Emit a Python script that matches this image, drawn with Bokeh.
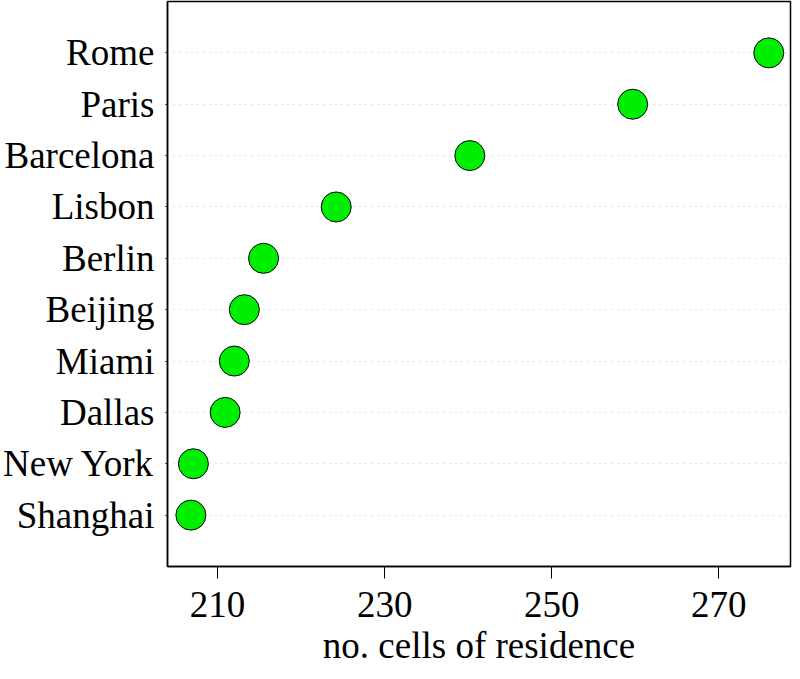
from bokeh.plotting import figure
from bokeh.models import Range1d, FixedTicker, ColumnDataSource
from bokeh.embed import file_html
from bokeh.resources import INLINE

cities = ["Shanghai", "New York", "Dallas", "Miami", "Beijing", "Berlin",
          "Lisbon", "Barcelona", "Paris", "Rome"]
cells = [206.8, 207.1, 210.9, 212.0, 213.2, 215.5, 224.2, 240.2, 259.7, 276.0]
x_ticks = [210, 230, 250, 270]
x_title = "no. cells of residence"

pos = list(range(1, len(cities) + 1))
src = ColumnDataSource(data=dict(x=cells, y=pos, city=cities))

FONT = "'Liberation Serif', 'Times New Roman', serif"
FS = "37px"

p = figure(width=792, height=671, output_backend="svg", toolbar_location=None,
           x_range=Range1d(204.0, 278.6), y_range=Range1d(0, len(cities) + 1),
           min_border_left=157, min_border_right=2, min_border_top=1,
           min_border_bottom=105)

p.scatter("x", "y", source=src, size=30, fill_color="#00EE00",
          line_color="black", line_width=1)

p.outline_line_color = "black"
p.outline_line_width = 1.5
p.background_fill_color = "white"
p.border_fill_color = "white"

p.xgrid.visible = False
p.ygrid.grid_line_color = "#c8c8c8"
p.ygrid.grid_line_dash = "1 5"
p.ygrid.grid_line_width = 1

xa = p.xaxis[0]
xa.ticker = FixedTicker(ticks=x_ticks)
xa.minor_tick_line_color = None
xa.major_tick_out = 12
xa.major_tick_in = 0
xa.major_tick_line_color = "black"
xa.axis_line_color = "black"
xa.axis_line_width = 1.5
xa.major_label_text_font = FONT
xa.major_label_text_font_size = FS
xa.major_label_text_color = "black"
xa.major_label_standoff = 13
xa.axis_label = x_title
xa.axis_label_text_font = FONT
xa.axis_label_text_font_size = FS
xa.axis_label_text_font_style = "normal"
xa.axis_label_text_color = "black"
xa.axis_label_standoff = 5

ya = p.yaxis[0]
ya.ticker = FixedTicker(ticks=pos)
ya.major_label_overrides = {i: c for i, c in zip(pos, cities)}
ya.minor_tick_line_color = None
ya.major_tick_out = 2
ya.major_tick_in = 0
ya.major_tick_line_color = "black"
ya.axis_line_color = "black"
ya.axis_line_width = 1.5
ya.major_label_text_font = FONT
ya.major_label_text_font_size = FS
ya.major_label_text_color = "black"
ya.major_label_standoff = 11

open("out.html", "w").write(file_html(p, INLINE))
